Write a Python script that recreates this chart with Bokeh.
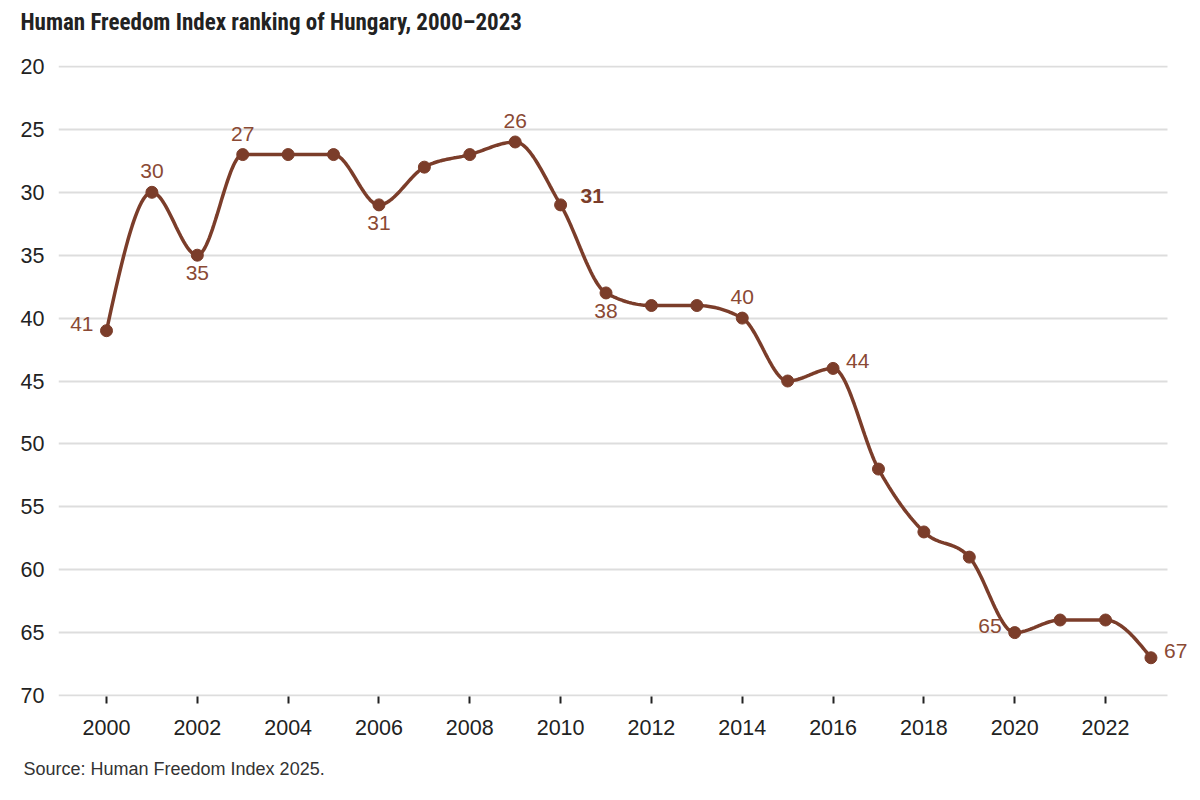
import numpy as np
from bokeh.plotting import figure
from bokeh.models import Range1d, FixedTicker, Label, Title
from bokeh.embed import file_html
from bokeh.resources import INLINE

# ---- data ----
years = [2000, 2001, 2002, 2003, 2004, 2005, 2006, 2007, 2008, 2009, 2010, 2011,
         2012, 2013, 2014, 2015, 2016, 2017, 2018, 2019, 2020, 2021, 2022, 2023]
rank = [41, 30, 35, 27, 27, 27, 31, 28, 27, 26, 31, 38,
        39, 39, 40, 45, 44, 52, 57, 59, 65, 64, 64, 67]
label_years = [2000, 2001, 2002, 2003, 2006, 2009, 2010, 2011, 2014, 2016, 2020, 2023]
label_pos = ["left", "above", "below", "above", "below", "above", "right_bold",
             "below", "above", "right", "left", "right"]
x_ticks = list(range(2000, 2023, 2))
y_ticks = list(range(20, 71, 5))

TITLE = "Human Freedom Index ranking of Hungary, 2000\u20132023"
SOURCE = "Source: Human Freedom Index 2025."

LINE = "#7b3d2a"
LABEL = "#8a4934"
FONT = "Liberation Sans"

X0, X1, XGRID_END = 1998.943, 2023.915, 2023.365


def monotone_x(xs, ys, n=30):
    """d3 curveMonotoneX sampled as a polyline."""
    xs = np.asarray(xs, float)
    ys = np.asarray(ys, float)
    m = len(xs)
    h = np.diff(xs)
    s = np.diff(ys) / h
    t = np.zeros(m)
    for i in range(1, m - 1):
        h0, h1 = h[i - 1], h[i]
        s0, s1 = s[i - 1], s[i]
        p = (s0 * h1 + s1 * h0) / (h0 + h1)
        t[i] = (np.sign(s0) + np.sign(s1)) * min(abs(s0), abs(s1), 0.5 * abs(p))
    t[0] = (3 * s[0] - t[1]) / 2
    t[-1] = (3 * s[-1] - t[-2]) / 2
    px, py = [], []
    for i in range(m - 1):
        x0, x1, y0, y1 = xs[i], xs[i + 1], ys[i], ys[i + 1]
        dx = (x1 - x0) / 3
        c = [(x0, y0), (x0 + dx, y0 + dx * t[i]), (x1 - dx, y1 - dx * t[i + 1]), (x1, y1)]
        u = np.linspace(0, 1, n, endpoint=(i == m - 2))
        b = [(1 - u) ** 3, 3 * (1 - u) ** 2 * u, 3 * (1 - u) * u ** 2, u ** 3]
        px.extend(sum(b[k] * c[k][0] for k in range(4)))
        py.extend(sum(b[k] * c[k][1] for k in range(4)))
    return px, py


p = figure(width=1192, height=800, output_backend="svg", toolbar_location=None,
           x_range=Range1d(X0, X1), y_range=Range1d(70.08, 19.92),
           min_border_left=58, min_border_right=0, min_border_top=65,
           min_border_bottom=104)
p.outline_line_color = None
p.background_fill_color = "white"
p.border_fill_color = "white"

# axes
p.xaxis.ticker = FixedTicker(ticks=x_ticks)
p.yaxis.ticker = FixedTicker(ticks=y_ticks)
for ax in (p.xaxis[0], p.yaxis[0]):
    ax.axis_line_color = None
    ax.minor_tick_line_color = None
    ax.major_label_text_font = FONT
    ax.major_label_text_font_size = "21.5px"
    ax.major_label_text_color = "#222222"
p.yaxis.major_tick_line_color = None
p.yaxis.major_label_standoff = 8
p.xaxis.major_tick_in = 0
p.xaxis.major_tick_out = 7
p.xaxis.major_tick_line_color = "#222222"
p.xaxis.major_tick_line_width = 2
p.xaxis.major_label_standoff = 16
p.xgrid.grid_line_color = None
yg = p.ygrid[0]
if "cross_bounds" in yg.properties():
    yg.cross_bounds = (X0, XGRID_END)
    yg.grid_line_color = "#dddddd"
    yg.grid_line_width = 2
else:
    yg.grid_line_color = None
    p.segment(x0=[X0] * len(y_ticks), x1=[XGRID_END] * len(y_ticks),
              y0=y_ticks, y1=y_ticks, line_color="#dddddd", line_width=2,
              level="underlay")

# curve
cx, cy = monotone_x(years, rank)
p.line(cx, cy, line_color=LINE, line_width=3.5)
p.scatter(years, rank, size=12, fill_color=LINE, line_color=LINE)

# data labels
offsets = {
    "above": (0, 21, "center", "normal"),
    "below": (0, -18, "center", "normal"),
    "left": (-13, 7, "right", "normal"),
    "right": (13, 7, "left", "normal"),
    "right_bold": (20, 9, "left", "bold"),
}
lookup = dict(zip(years, rank))
for yr, pos in zip(label_years, label_pos):
    dx, dy, align, style = offsets[pos]
    p.add_layout(Label(x=yr, y=lookup[yr], text=str(lookup[yr]),
                       x_offset=dx, y_offset=dy,
                       text_align=align, text_baseline="middle", text_font=FONT,
                       text_font_size="21px", text_font_style=style,
                       text_color=LINE if style == "bold" else LABEL))

# title (with a blank spacer panel between it and the plot) & source
spacer = Title(text=" ", standoff=2, text_font=FONT, text_font_size="14px")
p.add_layout(spacer, "above")
t = Title(text=TITLE, align="left", offset=-38, standoff=16, vertical_align="top",
          text_font="Liberation Sans Narrow, Roboto Condensed, Liberation Sans",
          text_font_size="23px", text_font_style="bold", text_color="#222222")
p.add_layout(t, "above")
s = Title(text=SOURCE, align="left", offset=-35, standoff=38,
          text_font=FONT, text_font_size="18px", text_font_style="normal",
          text_color="#333333")
p.add_layout(s, "below")

open("out.html", "w").write(file_html(p, INLINE))
